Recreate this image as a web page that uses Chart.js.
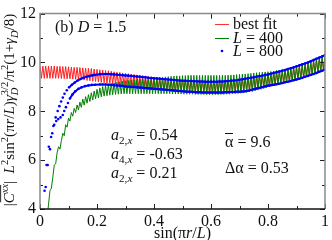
<!DOCTYPE html>
<html lang="en">
<head>
<meta charset="UTF-8" />
<title>Correlation fit, D = 1.5</title>
<script src="https://cdn.jsdelivr.net/npm/chart.js"></script>
<style>
  body { margin: 0; background: #fff; }
  canvas { display: block; }
</style>
</head>
<body>
<canvas id="fitChart" width="332" height="240"></canvas>
<script>
// x grid for the fit curve and L = 400 (sin(pi r / L))
const xs = [
  0, 0.005, 0.01, 0.015, 0.02, 0.025, 0.03, 0.035, 0.04, 0.045,
  0.05, 0.055, 0.06, 0.065, 0.07, 0.075, 0.08, 0.085, 0.09, 0.095,
  0.1, 0.105, 0.11, 0.115, 0.12, 0.125, 0.13, 0.135, 0.14, 0.145,
  0.15, 0.155, 0.16, 0.165, 0.17, 0.175, 0.18, 0.185, 0.19, 0.195,
  0.2, 0.205, 0.21, 0.215, 0.22, 0.225, 0.23, 0.235, 0.24, 0.245,
  0.25, 0.255, 0.26, 0.265, 0.27, 0.275, 0.28, 0.285, 0.29, 0.295,
  0.3, 0.305, 0.31, 0.315, 0.32, 0.325, 0.33, 0.335, 0.34, 0.345,
  0.35, 0.355, 0.36, 0.365, 0.37, 0.375, 0.38, 0.385, 0.39, 0.395,
  0.4, 0.405, 0.41, 0.415, 0.42, 0.425, 0.43, 0.435, 0.44, 0.445,
  0.45, 0.455, 0.46, 0.465, 0.47, 0.475, 0.48, 0.485, 0.49, 0.495,
  0.5, 0.505, 0.51, 0.515, 0.52, 0.525, 0.53, 0.535, 0.54, 0.545,
  0.55, 0.555, 0.56, 0.565, 0.57, 0.575, 0.58, 0.585, 0.59, 0.595,
  0.6, 0.605, 0.61, 0.615, 0.62, 0.625, 0.63, 0.635, 0.64, 0.645,
  0.65, 0.655, 0.66, 0.665, 0.67, 0.675, 0.68, 0.685, 0.69, 0.695,
  0.7, 0.705, 0.71, 0.715, 0.72, 0.725, 0.73, 0.735, 0.74, 0.745,
  0.75, 0.755, 0.76, 0.765, 0.77, 0.775, 0.78, 0.785, 0.79, 0.795,
  0.8, 0.805, 0.81, 0.815, 0.82, 0.825, 0.83, 0.835, 0.84, 0.845,
  0.85, 0.855, 0.86, 0.865, 0.87, 0.875, 0.88, 0.885, 0.89, 0.895,
  0.9, 0.905, 0.91, 0.915, 0.92, 0.925, 0.93, 0.935, 0.94, 0.945,
  0.95, 0.955, 0.96, 0.965, 0.97, 0.975, 0.98, 0.985, 0.99, 0.995,
  1
];

// best fit (odd / even r alternate)
const fitY = [
  9.85, 9.35, 9.85, 9.35, 9.85, 9.35, 9.85, 9.35, 9.85, 9.35,
  9.85, 9.35, 9.84, 9.35, 9.84, 9.34, 9.83, 9.34, 9.83, 9.33,
  9.82, 9.33, 9.81, 9.32, 9.80, 9.31, 9.80, 9.30, 9.79, 9.29,
  9.78, 9.28, 9.77, 9.26, 9.76, 9.25, 9.75, 9.23, 9.73, 9.22,
  9.72, 9.20, 9.70, 9.18, 9.69, 9.17, 9.67, 9.15, 9.66, 9.14,
  9.64, 9.12, 9.62, 9.11, 9.60, 9.09, 9.59, 9.08, 9.57, 9.06,
  9.55, 9.05, 9.54, 9.04, 9.52, 9.03, 9.51, 9.02, 9.49, 9.01,
  9.48, 9.00, 9.46, 8.99, 9.45, 8.97, 9.43, 8.96, 9.42, 8.94,
  9.40, 8.93, 9.39, 8.92, 9.37, 8.91, 9.36, 8.89, 9.34, 8.88,
  9.33, 8.87, 9.32, 8.86, 9.30, 8.85, 9.29, 8.84, 9.28, 8.83,
  9.27, 8.82, 9.26, 8.81, 9.25, 8.80, 9.24, 8.79, 9.24, 8.79,
  9.23, 8.78, 9.23, 8.78, 9.22, 8.77, 9.22, 8.77, 9.21, 8.77,
  9.21, 8.77, 9.21, 8.77, 9.22, 8.77, 9.22, 8.78, 9.22, 8.78,
  9.23, 8.78, 9.24, 8.79, 9.25, 8.80, 9.26, 8.80, 9.27, 8.81,
  9.28, 8.82, 9.30, 8.84, 9.32, 8.85, 9.34, 8.87, 9.36, 8.88,
  9.38, 8.90, 9.40, 8.93, 9.43, 8.95, 9.45, 8.98, 9.48, 9.00,
  9.50, 9.03, 9.53, 9.05, 9.56, 9.08, 9.59, 9.10, 9.62, 9.13,
  9.65, 9.15, 9.68, 9.18, 9.72, 9.21, 9.75, 9.24, 9.79, 9.27,
  9.82, 9.30, 9.86, 9.34, 9.90, 9.37, 9.94, 9.41, 9.99, 9.44,
  10.03, 9.48, 10.08, 9.53, 10.13, 9.58, 10.18, 9.62, 10.23, 9.67,
  10.28
];

// L = 400
const l400Y = [
  null, null, null, null, null, 3.6, 4.2, 4.75, 4.85, 5.3,
  5.8, 5.85, 6.3, 6.55, 6.45, 6.8, 7.1, 7.0, 7.45, 7.35,
  7.72, 7.6, 7.95, 7.8, 8.12, 7.95, 8.26, 8.06, 8.38, 8.16,
  8.5, 8.25, 8.6, 8.33, 8.68, 8.4, 8.76, 8.46, 8.83, 8.51,
  8.9, 8.55, 8.96, 8.59, 9.01, 8.62, 9.05, 8.64, 9.09, 8.66,
  9.13, 8.68, 9.16, 8.69, 9.19, 8.7, 9.21, 8.71, 9.23, 8.72,
  9.25, 8.72, 9.26, 8.72, 9.28, 8.72, 9.29, 8.72, 9.3, 8.72,
  9.32, 8.72, 9.33, 8.72, 9.34, 8.72, 9.35, 8.72, 9.36, 8.72,
  9.37, 8.72, 9.38, 8.72, 9.39, 8.72, 9.4, 8.72, 9.41, 8.72,
  9.42, 8.72, 9.43, 8.71, 9.44, 8.71, 9.45, 8.71, 9.45, 8.71,
  9.46, 8.7, 9.46, 8.7, 9.47, 8.7, 9.47, 8.7, 9.47, 8.69,
  9.47, 8.69, 9.47, 8.69, 9.47, 8.69, 9.47, 8.68, 9.47, 8.68,
  9.47, 8.68, 9.47, 8.68, 9.47, 8.68, 9.47, 8.69, 9.47, 8.69,
  9.47, 8.7, 9.48, 8.7, 9.48, 8.71, 9.49, 8.72, 9.5, 8.73,
  9.51, 8.74, 9.52, 8.75, 9.53, 8.77, 9.54, 8.79, 9.55, 8.81,
  9.57, 8.84, 9.58, 8.87, 9.59, 8.9, 9.6, 8.93, 9.61, 8.96,
  9.62, 9.0, 9.63, 9.03, 9.65, 9.06, 9.67, 9.09, 9.69, 9.12,
  9.71, 9.15, 9.73, 9.18, 9.75, 9.21, 9.78, 9.24, 9.81, 9.27,
  9.84, 9.3, 9.87, 9.33, 9.91, 9.37, 9.95, 9.41, 9.99, 9.45,
  10.04, 9.49, 10.08, 9.53, 10.13, 9.57, 10.18, 9.62, 10.23, 9.66,
  10.28
];

// L = 800, upper branch
const l800UpX = [
  0.016, 0.023, 0.031, 0.039, 0.047, 0.055, 0.062, 0.068, 0.074, 0.08,
  0.086, 0.094, 0.102, 0.112, 0.122, 0.132, 0.142, 0.152, 0.162, 0.172,
  0.182, 0.192,
  0.21, 0.22, 0.23, 0.24, 0.25, 0.26, 0.27, 0.28, 0.29, 0.3,
  0.31, 0.32, 0.33, 0.34, 0.35, 0.36, 0.37, 0.38, 0.39, 0.4,
  0.41, 0.42, 0.43, 0.44, 0.45, 0.46, 0.47, 0.48, 0.49, 0.5,
  0.51, 0.52, 0.53, 0.54, 0.55, 0.56, 0.57, 0.58, 0.59, 0.6,
  0.61, 0.62, 0.63, 0.64, 0.65, 0.66, 0.67, 0.68, 0.69, 0.7,
  0.71, 0.72, 0.73, 0.74, 0.75, 0.76, 0.77, 0.78, 0.79, 0.8,
  0.81, 0.82, 0.83, 0.84, 0.85, 0.86, 0.87, 0.88, 0.89, 0.9,
  0.91, 0.92, 0.93, 0.94, 0.95, 0.96, 0.97, 0.98, 0.99, 1
];
const l800UpY = [
  4.75, 5.8, 6.55, 6.95, 7.4, 7.75, 8.01, 8.21, 8.4, 8.56,
  8.72, 8.86, 8.98, 9.09, 9.18, 9.26, 9.32, 9.37, 9.41, 9.44,
  9.47, 9.49,
  9.52, 9.53, 9.53, 9.53, 9.52, 9.51, 9.5, 9.49, 9.48, 9.47,
  9.46, 9.45, 9.43, 9.42, 9.41, 9.4, 9.39, 9.37, 9.36, 9.35,
  9.34, 9.33, 9.32, 9.31, 9.3, 9.29, 9.28, 9.27, 9.26, 9.25,
  9.25, 9.24, 9.24, 9.23, 9.23, 9.22, 9.22, 9.21, 9.21, 9.21,
  9.21, 9.21, 9.22, 9.22, 9.23, 9.24, 9.25, 9.26, 9.27, 9.29,
  9.31, 9.33, 9.35, 9.37, 9.39, 9.42, 9.44, 9.46, 9.49, 9.51,
  9.54, 9.57, 9.6, 9.63, 9.66, 9.69, 9.73, 9.76, 9.8, 9.84,
  9.88, 9.92, 9.96, 10.0, 10.05, 10.1, 10.15, 10.2, 10.25, 10.3
];

// L = 800, lower branch
const l800LoX = [
  0.02, 0.027, 0.035, 0.043, 0.05, 0.057, 0.064, 0.072, 0.08, 0.085,
  0.091, 0.098, 0.105, 0.114, 0.124, 0.135, 0.146, 0.158, 0.17, 0.182,
  0.194,
  0.21, 0.22, 0.23, 0.24, 0.25, 0.26, 0.27, 0.28, 0.29, 0.3,
  0.31, 0.32, 0.33, 0.34, 0.35, 0.36, 0.37, 0.38, 0.39, 0.4,
  0.41, 0.42, 0.43, 0.44, 0.45, 0.46, 0.47, 0.48, 0.49, 0.5,
  0.51, 0.52, 0.53, 0.54, 0.55, 0.56, 0.57, 0.58, 0.59, 0.6,
  0.61, 0.62, 0.63, 0.64, 0.65, 0.66, 0.67, 0.68, 0.69, 0.7,
  0.71, 0.72, 0.73, 0.74, 0.75, 0.76, 0.77, 0.78, 0.79, 0.8,
  0.81, 0.82, 0.83, 0.84, 0.85, 0.86, 0.87, 0.88, 0.89, 0.9,
  0.91, 0.92, 0.93, 0.94, 0.95, 0.96, 0.97, 0.98, 0.99, 1
];
const l800LoY = [
  4.9, 5.8, 6.45, 7.1, 7.45, 7.6, 7.68, 7.75, 7.85, 8.01,
  8.17, 8.34, 8.52, 8.69, 8.82, 8.92, 8.98, 9.03, 9.06, 9.08,
  9.09,
  9.1, 9.1, 9.1, 9.09, 9.08, 9.07, 9.06, 9.05, 9.04, 9.02,
  9.01, 9.0, 8.99, 8.98, 8.97, 8.96, 8.95, 8.94, 8.93, 8.92,
  8.91, 8.9, 8.89, 8.88, 8.87, 8.86, 8.85, 8.84, 8.83, 8.82,
  8.81, 8.8, 8.8, 8.79, 8.78, 8.78, 8.77, 8.77, 8.77, 8.77,
  8.77, 8.77, 8.77, 8.77, 8.78, 8.78, 8.79, 8.79, 8.8, 8.8,
  8.81, 8.82, 8.84, 8.87, 8.9, 8.93, 8.96, 8.99, 9.02, 9.05,
  9.07, 9.09, 9.11, 9.13, 9.16, 9.19, 9.21, 9.24, 9.27, 9.3,
  9.33, 9.37, 9.41, 9.45, 9.49, 9.53, 9.57, 9.62, 9.66, 9.71
];

const xTicks = [0, 0.2, 0.4, 0.6, 0.8, 1];
const yTicks = [4, 6, 8, 10, 12];

const SERIF = '"Liberation Serif", "DejaVu Serif", serif';
function fnt(size, italic) {
  return (italic ? 'italic ' : '') + size + 'px ' + SERIF;
}

function pts(xArr, yArr) {
  return xArr.map((x, i) => ({ x: x, y: yArr[i] }));
}

// rich text: parts {t, i (italic), s: 'sup'|'sub', bar} or {stack: [sub, sup]}
function partWidth(ctx, p, size) {
  if (p.stack) {
    ctx.font = fnt(size * 0.7, true);
    const a = ctx.measureText(p.stack[0]).width;
    ctx.font = fnt(size * 0.7, false);
    const b = ctx.measureText(p.stack[1]).width;
    return Math.max(a, b);
  }
  ctx.font = fnt(p.s ? size * 0.7 : size, p.i);
  return ctx.measureText(p.t).width;
}
function richWidth(ctx, parts, size) {
  return parts.reduce((w, p) => w + partWidth(ctx, p, size), 0);
}
function drawRich(ctx, parts, x, y, size) {
  let barStart = null;
  parts.forEach(p => {
    const w = partWidth(ctx, p, size);
    if (p.stack) {
      ctx.font = fnt(size * 0.7, true);
      ctx.fillText(p.stack[0], x, y + size * 0.25);
      ctx.font = fnt(size * 0.7, false);
      ctx.fillText(p.stack[1], x, y - size * 0.42);
    } else {
      ctx.font = fnt(p.s ? size * 0.7 : size, p.i);
      const dy = p.s === 'sup' ? -size * 0.42 : p.s === 'sub' ? size * 0.25 : 0;
      ctx.fillText(p.t, x, y + dy);
    }
    if (p.bar && barStart === null) barStart = x + 1;
    if (!p.bar && barStart !== null) {
      ctx.fillRect(barStart, y - size * 0.92, x - barStart - 1, 0.9);
      barStart = null;
    }
    x += w;
  });
}

const yTitle = [
  { t: '|' }, { t: 'C', i: 1, bar: 1 }, { t: 'xx', i: 1, s: 'sup', bar: 1 }, { t: '|  ' },
  { t: 'L', i: 1 }, { t: '2', s: 'sup' }, { t: 'sin' }, { t: '2', s: 'sup' },
  { t: '(π' }, { t: 'r', i: 1 }, { t: '/' }, { t: 'L', i: 1 }, { t: ')' },
  { t: 'γ', i: 1 }, { stack: ['D', '3/2'] }, { t: '/π' }, { t: '2', s: 'sup' },
  { t: '(1+' }, { t: 'γ', i: 1 }, { t: 'D', i: 1, s: 'sub' }, { t: '/8)' }
];

const decorations = {
  id: 'decorations',
  afterDraw(chart) {
    const ctx = chart.ctx;
    const a = chart.chartArea;
    const xs_ = chart.scales.x, ys_ = chart.scales.y;
    ctx.save();

    // ticks (inside, all four sides)
    ctx.strokeStyle = '#222';
    ctx.lineWidth = 1;
    ctx.beginPath();
    for (let v = 0; v <= 10; v++) {
      const px = Math.round(xs_.getPixelForValue(v / 10)) + 0.5;
      const len = v % 2 === 0 ? 5 : 3;
      ctx.moveTo(px, a.bottom); ctx.lineTo(px, a.bottom - len);
      ctx.moveTo(px, a.top); ctx.lineTo(px, a.top + len);
    }
    for (let v = 4; v <= 12; v++) {
      const py = Math.round(ys_.getPixelForValue(v)) + 0.5;
      const len = v % 2 === 0 ? 5 : 3;
      ctx.moveTo(a.left, py); ctx.lineTo(a.left + len, py);
      ctx.moveTo(a.right, py); ctx.lineTo(a.right - len, py);
    }
    ctx.stroke();

    // frame
    ctx.strokeStyle = '#8a8a8a';
    ctx.lineWidth = 1.5;
    ctx.beginPath();
    ctx.moveTo(a.left, a.bottom); ctx.lineTo(a.left, a.top);
    ctx.lineTo(a.right, a.top); ctx.lineTo(a.right, a.bottom);
    ctx.stroke();
    ctx.strokeStyle = '#111';
    ctx.beginPath();
    ctx.moveTo(a.left, a.bottom); ctx.lineTo(a.right, a.bottom);
    ctx.stroke();

    ctx.fillStyle = '#111';
    ctx.textBaseline = 'alphabetic';
    ctx.textAlign = 'left';

    // legend
    ctx.lineWidth = 1;
    ctx.strokeStyle = '#ff3030';
    ctx.beginPath(); ctx.moveTo(215, 24.5); ctx.lineTo(229, 24.5); ctx.stroke();
    ctx.strokeStyle = '#008000';
    ctx.beginPath(); ctx.moveTo(215, 38.5); ctx.lineTo(229, 38.5); ctx.stroke();
    ctx.fillStyle = '#0000ff';
    ctx.beginPath(); ctx.arc(222, 51, 1.3, 0, Math.PI * 2); ctx.fill();
    ctx.fillStyle = '#111';
    drawRich(ctx, [{ t: 'best fit' }], 233, 29, 16);
    drawRich(ctx, [{ t: 'L', i: 1 }, { t: ' = 400' }], 233, 43, 16);
    drawRich(ctx, [{ t: 'L', i: 1 }, { t: ' = 800' }], 233, 56, 16);

    // panel label and fit parameters
    drawRich(ctx, [{ t: '(b) ' }, { t: 'D', i: 1 }, { t: ' = 1.5' }], 55, 32, 16);
    drawRich(ctx, [{ t: 'a', i: 1 }, { t: '2,', s: 'sub' }, { t: 'x', i: 1, s: 'sub' }, { t: ' = 0.54' }], 111, 140, 16);
    drawRich(ctx, [{ t: 'a', i: 1 }, { t: '4,', s: 'sub' }, { t: 'x', i: 1, s: 'sub' }, { t: ' = -0.63' }], 111, 159, 16);
    drawRich(ctx, [{ t: 'a', i: 1 }, { t: '2,', s: 'sub' }, { t: 'x', i: 1, s: 'sub' }, { t: ' = 0.21' }], 111, 178, 16);
    drawRich(ctx, [{ t: 'α' }, { t: ' = 9.6' }], 225, 147, 16);
    ctx.fillRect(225, 133, 8, 1);
    drawRich(ctx, [{ t: 'Δα = 0.53' }], 225, 173, 16);

    // x axis title
    const xt = [{ t: 'sin(π' }, { t: 'r', i: 1 }, { t: '/' }, { t: 'L', i: 1 }, { t: ')' }];
    drawRich(ctx, xt, (a.left + a.right) / 2 - richWidth(ctx, xt, 16) / 2, 238, 16);

    // y axis title (rotated)
    ctx.translate(14, 110);
    ctx.rotate(-Math.PI / 2);
    drawRich(ctx, yTitle, -richWidth(ctx, yTitle, 15) / 2, 0, 15);

    ctx.restore();
  }
};

const ctx = document.getElementById('fitChart').getContext('2d');
new Chart(ctx, {
  type: 'scatter',
  data: {
    datasets: [
      {
        label: 'L = 800 (upper)',
        data: pts(l800UpX, l800UpY),
        showLine: false,
        pointRadius: 1.3,
        pointBorderWidth: 0,
        pointBackgroundColor: '#0000ff'
      },
      {
        label: 'L = 800 (lower)',
        data: pts(l800LoX, l800LoY),
        showLine: false,
        pointRadius: 1.3,
        pointBorderWidth: 0,
        pointBackgroundColor: '#0000ff'
      },
      {
        label: 'upper line',
        data: pts(l800UpX, l800UpY).filter(p => p.x >= 0.1),
        showLine: true,
        borderColor: '#0000ff',
        borderWidth: 2,
        pointRadius: 0
      },
      {
        label: 'lower line',
        data: pts(l800LoX, l800LoY).filter(p => p.x >= 0.1),
        showLine: true,
        borderColor: '#0000ff',
        borderWidth: 2,
        pointRadius: 0
      },
      {
        label: 'L = 400',
        data: pts(xs, l400Y),
        showLine: true,
        spanGaps: false,
        borderColor: '#008000',
        borderWidth: 1,
        pointRadius: 0
      },
      {
        label: 'best fit',
        data: pts(xs, fitY),
        showLine: true,
        borderColor: '#ff2020',
        borderWidth: 1,
        pointRadius: 0
      }
    ]
  },
  options: {
    responsive: false,
    animation: false,
    devicePixelRatio: 1,
    layout: { padding: { left: 0, right: 3, top: 5, bottom: 0 } },
    plugins: { legend: { display: false }, tooltip: { enabled: false } },
    scales: {
      x: {
        type: 'linear',
        min: 0, max: 1,
        grid: { display: false, drawTicks: false },
        border: { display: false },
        afterFit: s => { s.height = 31; },
        afterBuildTicks: s => { s.ticks = xTicks.map(v => ({ value: v })); },
        ticks: {
          padding: 3,
          color: '#111',
          maxRotation: 0,
          callback: v => String(v),
          font: { family: SERIF, size: 16 }
        }
      },
      y: {
        min: 4, max: 12,
        grid: { display: false, drawTicks: false },
        border: { display: false },
        afterFit: s => { s.width = 40; },
        afterBuildTicks: s => { s.ticks = yTicks.map(v => ({ value: v })); },
        ticks: {
          padding: 4,
          color: '#111',
          callback: v => String(v),
          font: { family: SERIF, size: 16 }
        }
      }
    }
  },
  plugins: [decorations]
});
</script>
</body>
</html>
